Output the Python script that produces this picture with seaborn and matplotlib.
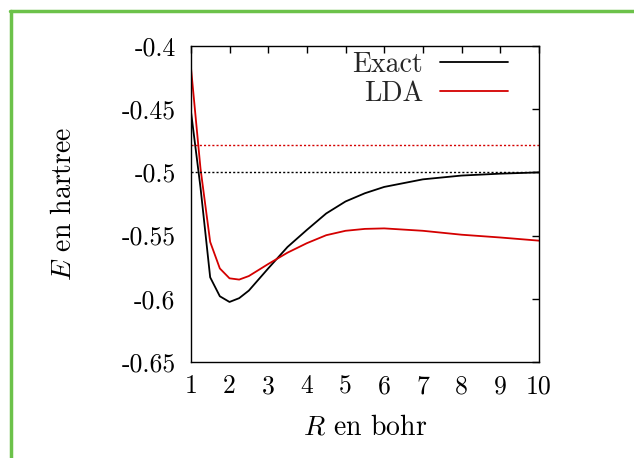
import pandas as pd
import seaborn as sns
import matplotlib.pyplot as plt
from matplotlib.lines import Line2D

# Data
R = [1.0, 1.25, 1.5, 1.75, 2.0, 2.25, 2.5, 3.0, 3.5, 4.0, 4.5, 5.0, 5.5, 6.0, 7.0, 8.0, 9.0, 10.0]
E_exact = [-0.451, -0.512, -0.583, -0.598, -0.6025, -0.5995, -0.5935, -0.576, -0.559, -0.5455,
           -0.5325, -0.523, -0.5165, -0.5115, -0.5055, -0.5025, -0.501, -0.5]
E_lda = [-0.416, -0.497, -0.555, -0.576, -0.5838, -0.5848, -0.582, -0.5725, -0.5635, -0.556,
         -0.5497, -0.5462, -0.5447, -0.5443, -0.5462, -0.5493, -0.5515, -0.554]
E_limit_exact = -0.5
E_limit_lda = -0.478

xticks = [1, 2, 3, 4, 5, 6, 7, 8, 9, 10]
yticks = [-0.4, -0.45, -0.5, -0.55, -0.6, -0.65]
ytick_labels = ["-0.4", "-0.45", "-0.5", "-0.55", "-0.6", "-0.65"]

df = pd.DataFrame({
    "R": R + R,
    "E": E_exact + E_lda,
    "method": ["Exact"] * len(R) + ["LDA"] * len(R),
})

sns.set_theme(style="white")
plt.rcParams["font.family"] = ["cmr10", "DejaVu Serif"]
plt.rcParams["mathtext.fontset"] = "cm"
plt.rcParams["axes.unicode_minus"] = False

red = "#d40000"
fig = plt.figure(figsize=(6.34, 4.58), dpi=100)
ax = fig.add_axes([0.301, 0.2096, 0.549, 0.69])

sns.lineplot(data=df, x="R", y="E", hue="method", palette={"Exact": "black", "LDA": red},
             sort=False, estimator=None, linewidth=1.3, ax=ax)

ax.axhline(E_limit_exact, color="black", linestyle=(0, (1.5, 1.5)), linewidth=1.0)
ax.axhline(E_limit_lda, color=red, linestyle=(0, (1.5, 1.5)), linewidth=1.0)

ax.set_xlim(1, 10)
ax.set_ylim(-0.65, -0.4)
ax.set_xticks(xticks)
ax.set_xticklabels([str(t) for t in xticks], fontsize=18.5)
ax.set_yticks(yticks)
ax.set_yticklabels(ytick_labels, fontsize=18.5)
ax.tick_params(direction="in", length=5, width=1, top=True, right=True,
               color="black", labelcolor="black")
ax.tick_params(axis="x", pad=9)
ax.tick_params(axis="y", pad=11)
for s in ax.spines.values():
    s.set_color("black")
    s.set_linewidth(1.0)

ax.set_xlabel(r"$R$ en bohr", fontsize=20, color="black", va="center")
ax.xaxis.set_label_coords(0.5, (362 - 427) / 316)
ax.set_ylabel(r"$E$ en hartree", fontsize=20, color="black", va="center")
ax.yaxis.set_label_coords((63 - 190) / 348, 0.5)

ax.legend(handles=ax.get_lines()[:2], labels=["Exact", "LDA"], loc="upper right",
          frameon=False, markerfirst=False, fontsize=20, handlelength=2.45,
          handletextpad=0.6, labelspacing=0.1, borderaxespad=0.0,
          bbox_to_anchor=(0.943, 1.018))

# green frame around the picture
green = "#6cc24a"
fig.add_artist(Line2D([10 / 634, 1], [1 - 10.5 / 458, 1 - 10.5 / 458], color=green, linewidth=2.5,
                      transform=fig.transFigure))
fig.add_artist(Line2D([10.5 / 634, 10.5 / 634], [0, 1 - 10.5 / 458], color=green, linewidth=2.5,
                      transform=fig.transFigure))

fig.savefig("out.png", dpi=100)
